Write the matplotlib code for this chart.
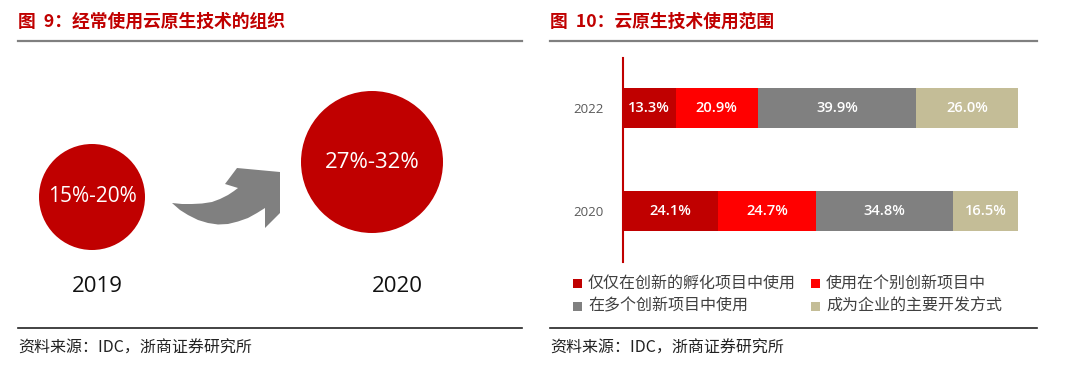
import matplotlib
matplotlib.use("Agg")
import matplotlib.pyplot as plt
from matplotlib.patches import Circle, Polygon, Rectangle
from matplotlib.lines import Line2D

plt.rcParams['font.family'] = ['Noto Sans CJK SC', 'DejaVu Sans']

# ---- data ----
left_title = "图  9：经常使用云原生技术的组织"
right_title = "图  10：云原生技术使用范围"
source = "资料来源：IDC，浙商证券研究所"

years_left = ["2019", "2020"]
ranges_left = ["15%-20%", "27%-32%"]

years = ["2020", "2022"]
series = ["仅仅在创新的孵化项目中使用", "使用在个别创新项目中",
          "在多个创新项目中使用", "成为企业的主要开发方式"]
values = {
    "仅仅在创新的孵化项目中使用": [24.1, 13.3],
    "使用在个别创新项目中": [24.7, 20.9],
    "在多个创新项目中使用": [34.8, 39.9],
    "成为企业的主要开发方式": [16.5, 26.0],
}
colors = ["#C00000", "#FF0000", "#808080", "#C4BD97"]

W, H = 1080, 367
fig = plt.figure(figsize=(W / 100, H / 100), dpi=100)


def fx(px):
    return px / W


def fy(py):
    return 1 - py / H


RED = "#C00000"

# titles, rules, sources
for x0, x1, t in [(18, 522, left_title), (550, 1037, right_title)]:
    fig.text(fx(x0), fy(22), t, color=RED, fontsize=12.8, fontweight='bold',
             va='center', ha='left')
    fig.add_artist(Line2D([fx(x0), fx(x1)], [fy(41), fy(41)], color="#808080", lw=1.6))
    fig.add_artist(Line2D([fx(x0), fx(x1)], [fy(328), fy(328)], color="#222222", lw=1.2))
    fig.text(fx(x0), fy(348), source, color="#222222", fontsize=11.5, va='center', ha='left')

# ---- left panel: circles ----
axl = fig.add_axes([0, 0, 0.5, 1])
axl.set_xlim(0, 540)
axl.set_ylim(367, 0)
axl.axis('off')

circ = [(92, 197, 53), (372, 162, 71)]
for (cx, cy, r), lab in zip(circ, ranges_left):
    axl.add_patch(Circle((cx, cy), r, color=RED, ec='none'))
    axl.text(cx, cy, lab, color='white', fontsize=15 if r < 60 else 16,
             ha='center', va='center', family=['Open Sans', 'DejaVu Sans'])
for yr, xx in zip(years_left, [97, 397]):
    axl.text(xx, 286, yr, color='#111111', fontsize=16, ha='center', va='center',
             family=['Open Sans', 'DejaVu Sans'])

# curved arrow (decoration)
arrow_pts = [(172, 203), (182, 204), (192, 204), (202, 203.5), (212, 202),
             (220, 199), (228, 195), (234, 191), (238, 188),
             (225, 184), (237, 168), (280, 172), (280, 213), (265, 228),
             (265, 208), (257, 213), (248, 218), (238, 221.5), (228, 224),
             (218, 224.5), (208, 223), (198, 220), (188, 215), (180, 210)]
axl.add_patch(Polygon(arrow_pts, closed=True, color="#808080", ec='none'))

# ---- right panel: stacked bars ----
ax = fig.add_axes([fx(623), fy(262), fx(1018) - fx(623), (262 - 58) / H])
ypos = list(range(len(years)))
left = [0.0] * len(years)
for s, c in zip(series, colors):
    vals = values[s]
    ax.barh(ypos, vals, left=left, height=0.39, color=c, edgecolor='none')
    for i, v in enumerate(vals):
        ax.text(left[i] + v / 2, ypos[i], f"{v:.1f}%", color='white', fontsize=10.5,
                ha='center', va='center', family=['Open Sans', 'DejaVu Sans'],
                fontweight='semibold')
    left = [l + v for l, v in zip(left, vals)]

ax.set_xlim(0, 100)
ax.set_ylim(-0.495, 1.485)
ax.set_yticks(ypos)
ax.set_yticklabels(years, color='#595959', fontsize=9.5, family=['Open Sans', 'DejaVu Sans'])
ax.tick_params(axis='y', length=0, pad=14)
ax.set_xticks([])
for sp in ['top', 'right', 'bottom']:
    ax.spines[sp].set_visible(False)
ax.spines['left'].set_color(RED)
ax.spines['left'].set_linewidth(1.5)

# legend
leg_pos = [(573, 283), (811, 283), (573, 306), (811, 306)]
for (lx, ly), s, c in zip(leg_pos, series, colors):
    fig.add_artist(Rectangle((fx(lx), fy(ly + 5)), fx(9), 9 / H, color=c,
                             transform=fig.transFigure, ec='none'))
    fig.text(fx(lx + 15), fy(ly), s, color='#404040', fontsize=11.5, va='center', ha='left')

fig.savefig("out.png", dpi=100)
